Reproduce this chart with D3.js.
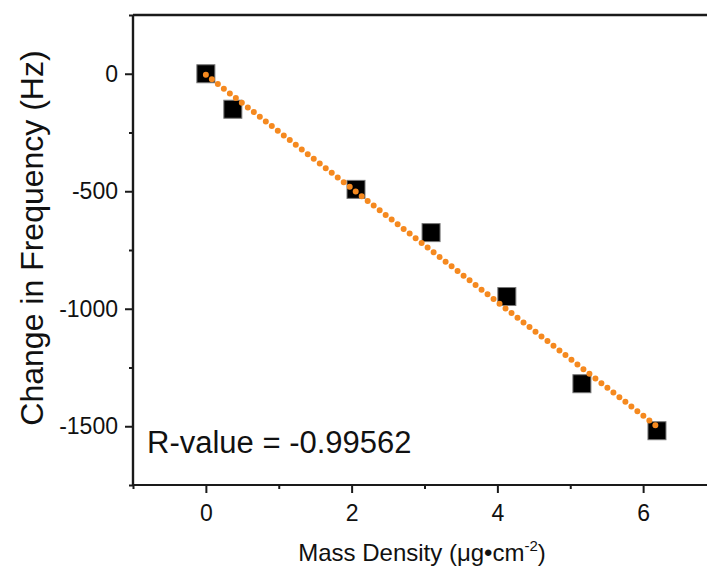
<!DOCTYPE html>
<html><head><meta charset="utf-8">
<script src="https://cdn.jsdelivr.net/npm/d3@7/dist/d3.min.js"></script>
<style>body{margin:0;background:#fff}svg{display:block}text{font-family:"Liberation Sans",Arial,sans-serif;fill:#111}</style>
</head><body>
<svg id="c" width="707" height="570"></svg>
<script>
const massDensity = [0, 0.37, 2.06, 3.09, 4.13, 5.16, 6.19];
const freqChange = [0, -151, -492, -676, -948, -1319, -1519];
const fitX = [0, 6.19];
const fitY = [-4, -1501];
const xMajorTicks = [0, 2, 4, 6];
const xMinorTicks = [-1, 1, 3, 5, 7];
const yMajorTicks = [0, -500, -1000, -1500];
const yMinorTicks = [250, -250, -750, -1250, -1750];
const rLabel = "R-value = -0.99562";

const svg = d3.select("#c");
const x = d3.scaleLinear().domain([-1, 7]).range([133, 716]);
const y = d3.scaleLinear().domain([-1750, 250]).range([485, 15]);
const fmt = d => String(d);

svg.append("line").attr("x1", x(-1)).attr("x2", x(7)).attr("y1", y(250)).attr("y2", y(250))
  .attr("stroke", "#1a1a1a").attr("stroke-width", 2.5);

const gx = svg.append("g").attr("transform", `translate(0,${y(-1750)})`);
gx.call(d3.axisBottom(x).tickValues(xMajorTicks).tickSize(8).tickPadding(12).tickFormat(fmt));
gx.append("g").call(d3.axisBottom(x).tickValues(xMinorTicks).tickSize(4).tickFormat(""));
const gy = svg.append("g").attr("transform", `translate(${x(-1)},0)`);
gy.call(d3.axisLeft(y).tickValues(yMajorTicks).tickSize(8).tickPadding(7).tickFormat(fmt));
gy.append("g").call(d3.axisLeft(y).tickValues(yMinorTicks).tickSize(4).tickFormat(""));
svg.selectAll(".domain").attr("stroke", "#1a1a1a").attr("stroke-width", 2.2);
svg.selectAll(".tick line").attr("stroke", "#1a1a1a").attr("stroke-width", 2);
svg.selectAll(".tick text").attr("font-size", 23).attr("fill", "#111")
  .attr("font-family", "Liberation Sans, Arial, sans-serif");
gy.selectAll(".domain").attr("d", `M0,${y(250)}V${y(-1750)}`);
gx.selectAll(".domain").attr("d", `M${x(-1)},0H${x(7)}`);

const fitPts = fitX.map((v, i) => [v, fitY[i]]);
const line = d3.line().x(d => x(d[0])).y(d => y(d[1]));

const s = 18;
svg.selectAll("rect.pt").data(massDensity).enter().append("rect").attr("class", "pt")
  .attr("x", (d) => x(d) - s / 2).attr("y", (d, i) => y(freqChange[i]) - s / 2)
  .attr("width", s).attr("height", s).attr("fill", "#000").attr("stroke", "#777").attr("stroke-width", 1);

svg.append("path").attr("d", line(fitPts))
  .attr("fill", "none").attr("stroke", "#F5891F").attr("stroke-width", 6)
  .attr("stroke-linecap", "round").attr("stroke-dasharray", "0 7.6");

svg.append("text").attr("x", 147).attr("y", 453).attr("font-size", 31).text(rLabel);

svg.append("text").attr("transform", `translate(43,238) rotate(-90)`)
  .attr("text-anchor", "middle").attr("font-size", 32).text("Change in Frequency (Hz)");

const xt = svg.append("text").attr("x", 422).attr("y", 561).attr("text-anchor", "middle").attr("font-size", 24);
xt.append("tspan").text("Mass Density (μg•cm");
xt.append("tspan").attr("dy", -10).attr("font-size", 15).text("-2");
xt.append("tspan").attr("dy", 10).text(")");
</script>
</body></html>
